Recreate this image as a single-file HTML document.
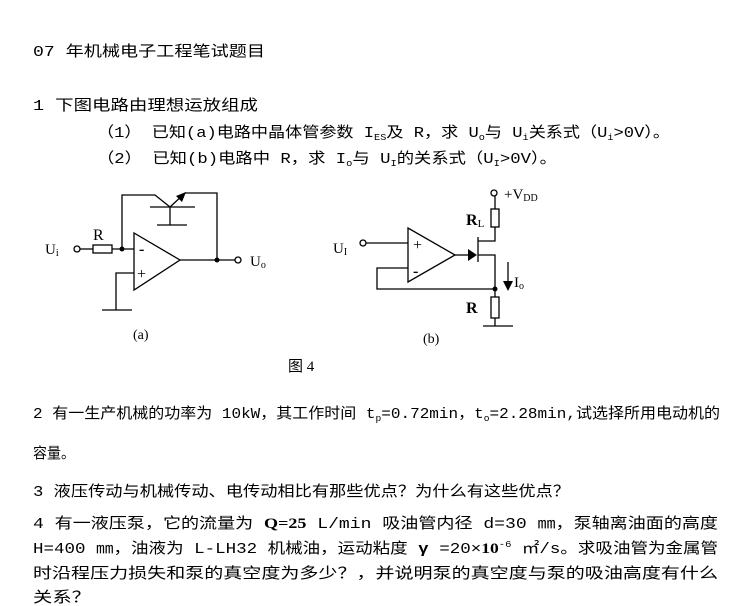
<!DOCTYPE html>
<html><head><meta charset="utf-8"><style>
html,body{margin:0;padding:0;background:#fff;}
svg{display:block;}
text{font-family:"Liberation Serif","Noto Sans CJK SC",sans-serif;fill:#000;}
.t text{font-family:"Liberation Mono","Noto Sans CJK SC",sans-serif;font-size:15px;}
</style></head><body>
<svg width="742" height="606" viewBox="0 0 742 606" xmlns="http://www.w3.org/2000/svg">
<g class="t">
<text x="33" y="56" textLength="232" lengthAdjust="spacingAndGlyphs">07 年机械电子工程笔试题目</text>
<text x="33" y="110" textLength="225" lengthAdjust="spacingAndGlyphs">1 下图电路由理想运放组成</text>
<text x="97" y="137" textLength="573" lengthAdjust="spacingAndGlyphs">（1）  已知(a)电路中晶体管参数 I<tspan font-size="9" dy="3">ES</tspan><tspan dy="-3">及 R，求 U</tspan><tspan font-size="9" dy="3">o</tspan><tspan dy="-3">与 U</tspan><tspan font-size="9" dy="3">i</tspan><tspan dy="-3">关系式（U</tspan><tspan font-size="9" dy="3">i</tspan><tspan dy="-3">&gt;0V）。</tspan></text>
<text x="97" y="163" textLength="460" lengthAdjust="spacingAndGlyphs">（2）  已知(b)电路中 R，求 I<tspan font-size="9" dy="3">o</tspan><tspan dy="-3">与 U</tspan><tspan font-size="9" dy="3">I</tspan><tspan dy="-3">的关系式（U</tspan><tspan font-size="9" dy="3">I</tspan><tspan dy="-3">&gt;0V）。</tspan></text>
<text x="33" y="418" textLength="687" lengthAdjust="spacingAndGlyphs">2 有一生产机械的功率为 10kW，其工作时间 t<tspan font-size="9" dy="3">p</tspan><tspan dy="-3">=0.72min，t</tspan><tspan font-size="9" dy="3">o</tspan><tspan dy="-3">=2.28min,试选择所用电动机的</tspan></text>
<text x="33" y="458" textLength="42" lengthAdjust="spacingAndGlyphs">容量。</text>
<text x="33" y="496" textLength="537" lengthAdjust="spacingAndGlyphs">3 液压传动与机械传动、电传动相比有那些优点？为什么有这些优点？</text>
<text x="33" y="528" textLength="685" lengthAdjust="spacingAndGlyphs">4 有一液压泵，它的流量为 <tspan font-family="Liberation Serif" font-weight="bold">Q=25</tspan>  L/min 吸油管内径 d=30 ㎜，泵轴离油面的高度</text>
<text x="33" y="553" textLength="685" lengthAdjust="spacingAndGlyphs">H=400 ㎜，油液为 L-LH32 机械油，运动粘度 <tspan font-weight="bold">γ</tspan> =20×<tspan font-family="Liberation Serif" font-weight="bold">10</tspan><tspan font-size="9" dy="-6">-6</tspan><tspan dy="6"> ㎡/s。求吸油管为金属管</tspan></text>
<text x="33" y="578" textLength="685" lengthAdjust="spacingAndGlyphs">时沿程压力损失和泵的真空度为多少？，并说明泵的真空度与泵的吸油高度有什么</text>
<text x="33" y="602" textLength="58" lengthAdjust="spacingAndGlyphs">关系？</text>
</g>

<!-- circuit a -->
<g stroke="#000" stroke-width="1.3" fill="none">
<circle cx="77" cy="249" r="3" fill="#fff"/>
<line x1="80" y1="249" x2="93" y2="249"/>
<rect x="93" y="245" width="19" height="8" fill="#fff"/>
<line x1="112" y1="249" x2="134" y2="249"/>
<polyline points="122,249 122,195 155,195 170,207"/>
<polyline points="170,207 185,193 217,193 217,260"/>
<line x1="150" y1="207" x2="195" y2="207"/>
<line x1="170" y1="207" x2="170" y2="225"/>
<line x1="157" y1="225" x2="187" y2="225"/>
<polygon points="134,233 134,290 180,260"/>
<line x1="180" y1="260" x2="235" y2="260"/>
<circle cx="238" cy="260" r="3" fill="#fff"/>
<polyline points="134,273 116,273 116,310"/>
<line x1="102" y1="310" x2="132" y2="310"/>
</g>
<polygon points="186,192 176,196 182,202" fill="#000"/>
<circle cx="122" cy="249" r="2.5" fill="#000"/>
<circle cx="217" cy="260" r="2.5" fill="#000"/>
<text x="45" y="254" font-size="15">U<tspan font-size="10" dy="2">i</tspan></text>
<text x="93" y="240" font-size="16">R</text>
<text x="250" y="266" font-size="15">U<tspan font-size="10" dy="2">o</tspan></text>
<text x="139" y="254" font-size="16" font-weight="bold">-</text>
<text x="137" y="279" font-size="16">+</text>
<text x="133" y="339" font-size="14">(a)</text>

<!-- circuit b -->
<g stroke="#000" stroke-width="1.3" fill="none">
<circle cx="363" cy="243" r="3" fill="#fff"/>
<line x1="366" y1="243" x2="408" y2="243"/>
<polygon points="408,228 408,282 455,255"/>
<polyline points="408,268 377,268 377,289 495,289"/>
<line x1="455" y1="255" x2="470" y2="255"/>
<line x1="478" y1="237" x2="478" y2="262"/>
<polyline points="478,241 495,241 495,227"/>
<polyline points="478,255 495,255 495,297"/>
<rect x="491" y="209" width="8" height="18" fill="#fff"/>
<line x1="495" y1="209" x2="495" y2="196"/>
<circle cx="494" cy="193" r="3" fill="#fff"/>
<rect x="491" y="297" width="8" height="21" fill="#fff"/>
<line x1="495" y1="318" x2="495" y2="326"/>
<line x1="483" y1="326" x2="513" y2="326"/>
<line x1="508" y1="262" x2="508" y2="282"/>
</g>
<polygon points="468,249 477,255 468,261" fill="#000"/>
<polygon points="503,281 513,281 508,291" fill="#000"/>
<circle cx="495" cy="289" r="2.5" fill="#000"/>
<text x="333" y="253" font-size="15">U<tspan font-size="10" dy="2">I</tspan></text>
<text x="413" y="250" font-size="16">+</text>
<text x="413" y="276" font-size="16" font-weight="bold">-</text>
<text x="466" y="225" font-size="16" font-weight="bold">R<tspan font-size="11" font-weight="normal" dy="2">L</tspan></text>
<text x="504" y="199" font-size="15">+V<tspan font-size="10" dy="2">DD</tspan></text>
<text x="514" y="287" font-size="15">I<tspan font-size="10" dy="2">o</tspan></text>
<text x="466" y="313" font-size="16" font-weight="bold">R</text>
<text x="423" y="343" font-size="14">(b)</text>
<text x="288" y="371" font-size="15">图 4</text>
</svg>
</body></html>
